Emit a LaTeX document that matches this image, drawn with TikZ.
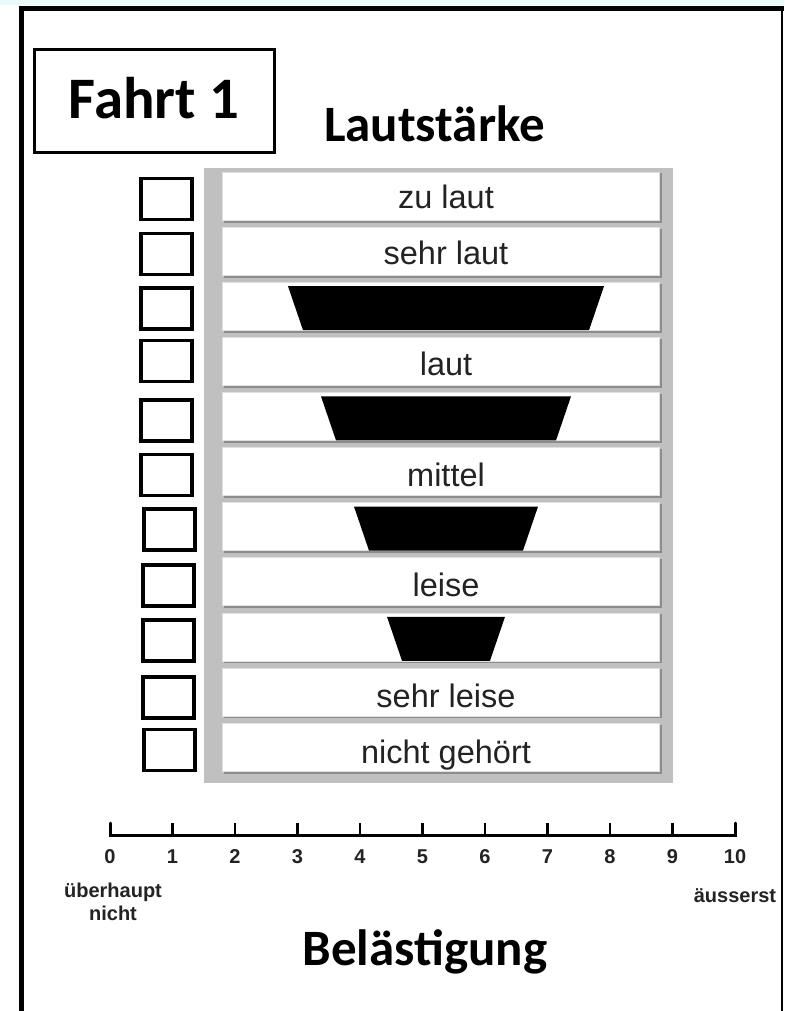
\documentclass[tikz,border=0pt]{standalone}
\usepackage{fontspec}
\setmainfont{Liberation Sans}
\newfontfamily\titlefont{Carlito}
\definecolor{panelgray}{RGB}{192,192,192}
\definecolor{shadowgray}{RGB}{140,140,140}
\definecolor{topband}{RGB}{232,250,252}
\definecolor{inkgray}{RGB}{35,35,35}
\begin{document}
\begin{tikzpicture}[x=1pt,y=-1pt,
  frameline/.style={line width=5pt,draw=black},
  barshadow/.style={fill=shadowgray},
  barface/.style={fill=white,draw=black!12,line width=0.6pt},
  trap/.style={fill=black},
  cbox/.style={draw=black,line width=3.5pt,fill=white,minimum width=51pt,minimum height=41pt,inner sep=0},
  bigtitle/.style={font=\titlefont\bfseries\fontsize{51}{60}\selectfont,anchor=base,inner sep=0},
  barlabel/.style={font=\fontsize{32.5}{38}\selectfont,text=inkgray,anchor=base,inner sep=0},
  axlabel/.style={font=\bfseries\fontsize{20}{23}\selectfont,text=inkgray,inner sep=0},
]
\useasboundingbox (0,0) rectangle (784,1011);
\fill[topband] (0,0) rectangle (784,5);
\fill[white] (0,5) rectangle (784,1011);
% outer frame
\draw[frameline] (21,1011) -- (21,8.5) -- (784,8.5);
\draw[line width=2.5pt] (782,8.5) -- (782,1011);

% Fahrt 1 box
\node[draw,line width=3pt,minimum width=240pt,minimum height=103pt,inner sep=0] (fahrt) at (154.5,101) {};
\node[bigtitle,font=\titlefont\bfseries\fontsize{58.8}{66}\selectfont] (fahrtlabel) at (154,119) {Fahrt 1};

% titles
\node[bigtitle] (laut) at (434.5,142) {Lautstärke};
\node[bigtitle] (bel) at (425,965) {Belästigung};

% gray panel
\fill[panelgray] (204,168) rectangle (673,783);

% bars
\foreach \i in {0,...,10}{
  \pgfmathsetmacro\t{172+55.1*\i}
  \fill[barshadow] (223.5,{\t+1.5}) rectangle (661.5,{\t+50.5});
  \path[barface] (222,\t) rectangle (659.5,{\t+48});
}

% trapezoids
\foreach \i/\w in {2/158,4/125,6/92,8/59}{
  \pgfmathsetmacro\t{172+55.1*\i}
  \fill[trap] ({446-\w},{\t+4}) -- ({446+\w},{\t+4}) -- ({446+\w-15},{\t+48}) -- ({446-\w+15},{\t+48}) -- cycle;
}

% bar labels
\node[barlabel] (r0) at (446,208.5) {zu laut};
\node[barlabel] (r1) at (446,264) {sehr laut};
\node[barlabel] (r3) at (446,375) {laut};
\node[barlabel] (r5) at (446,486) {mittel};
\node[barlabel] (r7) at (446,596.5) {leise};
\node[barlabel] (r9) at (446,707) {sehr leise};
\node[barlabel] (r10) at (446,763) {nicht gehört};

% checkboxes
\node[cbox] (cb1) at (166.5,199) {};
\node[cbox] (cb2) at (166.5,254) {};
\node[cbox] (cb3) at (166.5,308.5) {};
\node[cbox] (cb4) at (166.5,361) {};
\node[cbox] (cb5) at (166.5,420.5) {};
\node[cbox] (cb6) at (166.5,475) {};
\node[cbox] (cb7) at (169.5,529.5) {};
\node[cbox] (cb8) at (168.5,585.5) {};
\node[cbox] (cb9) at (168.5,640.5) {};
\node[cbox] (cb10) at (168.5,697.5) {};
\node[cbox] (cb11) at (169.5,750) {};

% axis
\coordinate (a0) at (110,835);
\coordinate (a10) at (735,835);
\draw[line width=3pt,line cap=round] (110,823) -- (a0) -- (a10) -- (735,823);
\foreach \k in {1,...,9}{
  \draw[line width=2.5pt] ({110+62.5*\k},823) -- ({110+62.5*\k},835);
}
\foreach \k in {0,...,10}{
  \node[axlabel] (n\k) at ({110+62.5*\k},857) {\k};
}
\node[axlabel,align=center] (ueb) at (113,901.5) {überhaupt\\nicht};
\node[axlabel] (aeus) at (735,896) {äusserst};
\end{tikzpicture}
\end{document}
